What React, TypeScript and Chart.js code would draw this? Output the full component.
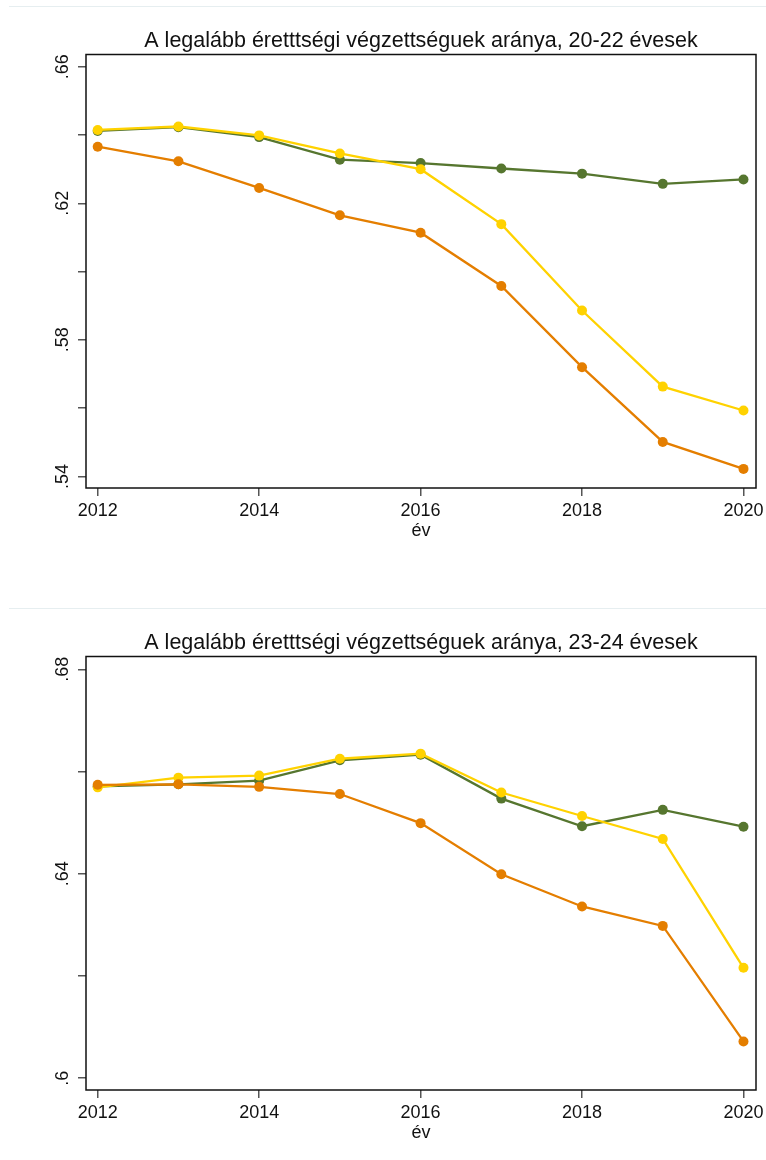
import React, { useEffect, useRef } from "react";
import { Chart, registerables } from "chart.js";

Chart.register(...registerables);

const years = [2012, 2013, 2014, 2015, 2016, 2017, 2018, 2019, 2020];
const xTicks = [2012, 2014, 2016, 2018, 2020];
const xTitle = "év";

const title1 = "A legalább éretttségi végzettséguek aránya, 20-22 évesek";
const green1 = [0.6412, 0.6423, 0.6394, 0.6328, 0.6318, 0.6302, 0.6287, 0.6257, 0.627];
const yellow1 = [0.6415, 0.6425, 0.6399, 0.6346, 0.63, 0.6139, 0.5886, 0.5663, 0.5593];
const orange1 = [0.6366, 0.6323, 0.6245, 0.6165, 0.6114, 0.5958, 0.572, 0.5501, 0.5422];
const yTicks1 = [0.54, 0.56, 0.58, 0.6, 0.62, 0.64, 0.66];
const yLabels1 = [0.54, 0.58, 0.62, 0.66];

const title2 = "A legalább éretttségi végzettséguek aránya, 23-24 évesek";
const green2 = [0.6571, 0.6575, 0.6582, 0.6622, 0.6633, 0.6547, 0.6493, 0.6525, 0.6492];
const yellow2 = [0.6569, 0.6588, 0.6592, 0.6625, 0.6635, 0.6559, 0.6513, 0.6468, 0.6216];
const orange2 = [0.6574, 0.6575, 0.657, 0.6556, 0.6499, 0.6399, 0.6336, 0.6298, 0.6072];
const yTicks2 = [0.6, 0.62, 0.64, 0.66, 0.68];
const yLabels2 = [0.6, 0.64, 0.68];

const GREEN = "#56762f";
const YELLOW = "#ffd200";
const ORANGE = "#e47e00";
const FONT = "'Liberation Sans', Arial, Helvetica, sans-serif";

const W = 766;
const H = 602;

function fmtY(v: number) {
  return String(+v.toFixed(2)).replace(/^0\./, ".");
}

const boxPlugin = {
  id: "plotBox",
  afterDraw(chart: any, _args: any, opts: any) {
    const { ctx, chartArea } = chart;
    ctx.save();
    ctx.strokeStyle = "#111";
    ctx.lineWidth = 1.5;
    ctx.strokeRect(
      chartArea.left,
      chartArea.top,
      chartArea.right - chartArea.left,
      chartArea.bottom - chartArea.top
    );
    // chart title, centred over the plot region
    ctx.fillStyle = "#111";
    ctx.font = `21.5px ${FONT}`;
    ctx.textAlign = "center";
    ctx.textBaseline = "alphabetic";
    ctx.fillText(opts.text || "", (chartArea.left + chartArea.right) / 2, 47);
    ctx.restore();
  },
};

type PanelProps = {
  title: string;
  yMin: number;
  yMax: number;
  yTicks: number[];
  yLabels: number[];
  green: number[];
  yellow: number[];
  orange: number[];
  top: number;
};

function Panel(p: PanelProps) {
  const ref = useRef<HTMLCanvasElement | null>(null);
  useEffect(() => {
    if (!ref.current) return;
    const mk = (vals: number[]) => years.map((x, i) => ({ x, y: vals[i] }));
    const ds = (label: string, vals: number[], color: string, order: number) => ({
      label,
      data: mk(vals),
      borderColor: color,
      backgroundColor: color,
      pointBackgroundColor: color,
      pointBorderColor: color,
      pointBorderWidth: 0,
      pointRadius: 5,
      pointHoverRadius: 5,
      borderWidth: 2.3,
      tension: 0,
      order,
    });
    const chart = new Chart(ref.current, {
      type: "line",
      data: {
        datasets: [
          ds("g", p.green, GREEN, 3),
          ds("y", p.yellow, YELLOW, 2),
          ds("o", p.orange, ORANGE, 1),
        ],
      },
      options: {
        animation: false,
        responsive: false,
        events: [],
        layout: { padding: { left: 0, right: 10, top: 54.5, bottom: 54 } },
        plugins: {
          legend: { display: false },
          tooltip: { enabled: false },
          title: { display: false },
          plotBox: { text: p.title },
        },
        scales: {
          x: {
            type: "linear",
            min: 2011.855,
            max: 2020.155,
            afterBuildTicks: (s: any) => {
              s.ticks = xTicks.map((v) => ({ value: v }));
            },
            afterFit: (s: any) => {
              s.height = 60;
              s.paddingLeft = 0;
              s.paddingRight = 0;
            },
            grid: {
              display: true,
              drawOnChartArea: false,
              drawTicks: true,
              tickLength: 8,
              color: "#555",
              lineWidth: 1.5,
            },
            border: { display: false },
            ticks: {
              color: "#111",
              padding: 4.7,
              maxRotation: 0,
              autoSkip: false,
              font: { family: FONT, size: 18 },
              callback: (v: any) => String(v),
            },
            title: {
              display: true,
              text: xTitle,
              color: "#111",
              font: { family: FONT, size: 18, lineHeight: 1.2 },
              padding: { top: 0, bottom: 6.1 },
            },
          },
          y: {
            type: "linear",
            min: p.yMin,
            max: p.yMax,
            afterBuildTicks: (s: any) => {
              s.ticks = p.yTicks.map((v) => ({ value: v }));
            },
            afterFit: (s: any) => {
              s.width = 86;
              s.paddingTop = 0;
              s.paddingBottom = 0;
            },
            grid: {
              display: true,
              drawOnChartArea: false,
              drawTicks: true,
              tickLength: 8,
              color: "#555",
              lineWidth: 1.5,
            },
            border: { display: false },
            ticks: {
              color: "#111",
              padding: 2.2,
              minRotation: 90,
              maxRotation: 90,
              crossAlign: "center",
              autoSkip: false,
              font: { family: FONT, size: 18 },
              callback: (v: any) =>
                p.yLabels.some((l) => Math.abs(l - v) < 1e-6) ? fmtY(v) : "",
            },
          },
        },
      } as any,
      plugins: [boxPlugin],
    });
    return () => chart.destroy();
  }, []);
  return (
    <div style={{ position: "absolute", left: 0, top: p.top, width: W, height: H }}>
      <div
        style={{
          position: "absolute",
          left: 9,
          top: 6,
          width: W - 9,
          height: 1,
          background: "#e6eef0",
        }}
      />
      <canvas ref={ref} width={W} height={H} style={{ position: "absolute", left: 0, top: 0 }} />
    </div>
  );
}

export default function App() {
  return (
    <div
      style={{
        position: "absolute",
        left: 0,
        top: 0,
        width: W,
        height: 1160,
        overflow: "hidden",
        background: "#fff",
      }}
    >
      <Panel
        title={title1}
        yMin={0.5366}
        yMax={0.6636}
        yTicks={yTicks1}
        yLabels={yLabels1}
        green={green1}
        yellow={yellow1}
        orange={orange1}
        top={0}
      />
      <Panel
        title={title2}
        yMin={0.5977}
        yMax={0.6825}
        yTicks={yTicks2}
        yLabels={yLabels2}
        green={green2}
        yellow={yellow2}
        orange={orange2}
        top={602}
      />
    </div>
  );
}
